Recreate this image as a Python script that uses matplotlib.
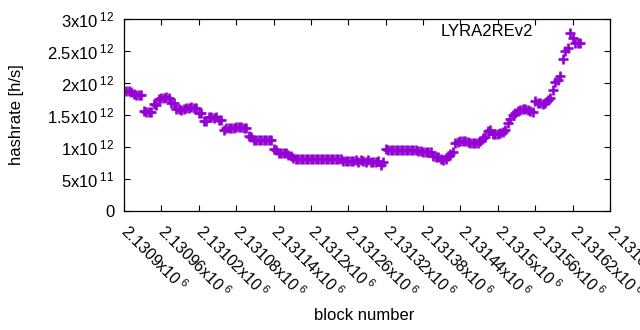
import matplotlib
matplotlib.use('Agg')
import matplotlib.pyplot as plt
import numpy as np

plt.rcParams['font.family'] = ['Liberation Sans', 'DejaVu Sans']
plt.rcParams['mathtext.fontset'] = 'custom'
plt.rcParams['mathtext.rm'] = 'Liberation Sans'
plt.rcParams['mathtext.default'] = 'regular'

PURPLE = '#9400d3'
FS = 12

# hashrate samples (x10^12 h/s), one every 4 blocks starting at FIRST_BLOCK
FIRST_BLOCK = 2130904
BLOCK_STEP = 4
hashrate_t = [
    1.88, 1.87, 1.86,
    1.83, 1.82, 1.82, 1.81,
    1.56, 1.55, 1.55, 1.54,
    1.67, 1.66,
    1.75, 1.76, 1.77, 1.78, 1.77,
    1.69, 1.68,
    1.59, 1.59, 1.58, 1.59,
    1.61, 1.61, 1.62, 1.61, 1.61,
    1.53, 1.53,
    1.40, 1.40,
    1.47, 1.47, 1.46, 1.47,
    1.42, 1.42,
    1.27, 1.29, 1.30, 1.30, 1.30, 1.31, 1.31, 1.31, 1.30, 1.30,
    1.17, 1.15,
    1.11, 1.11, 1.11, 1.11, 1.11, 1.11, 1.11, 1.11,
    0.97, 0.95,
    0.91, 0.91, 0.90, 0.90,
    0.87, 0.86,
    0.83, 0.82, 0.81, 0.81,
    0.81, 0.81, 0.81, 0.81, 0.81, 0.81, 0.81, 0.81,
    0.81, 0.81, 0.81, 0.81, 0.81, 0.81, 0.81, 0.81,
    0.78, 0.78, 0.78, 0.78, 0.78,
    0.79, 0.77, 0.80, 0.78, 0.77, 0.79,
    0.77, 0.76, 0.77, 0.78, 0.72, 0.77,
    0.97, 0.96, 0.96, 0.96, 0.96, 0.96, 0.96, 0.96, 0.96, 0.96, 0.96, 0.96, 0.96,
    0.93, 0.93, 0.92, 0.92, 0.92, 0.92,
    0.86, 0.85, 0.84,
    0.81, 0.80, 0.81,
    0.86, 0.89, 0.92,
    1.07, 1.08, 1.09, 1.09, 1.10, 1.08,
    1.07, 1.06, 1.06, 1.07, 1.09,
    1.14, 1.15,
    1.25, 1.27,
    1.20, 1.21, 1.21, 1.22, 1.23,
    1.27,
    1.38, 1.43,
    1.50, 1.53,
    1.56, 1.58, 1.59, 1.59, 1.58,
    1.56, 1.55,
    1.72,
    1.68, 1.68, 1.67, 1.68,
    1.74, 1.77,
    1.89,
    2.01, 2.04,
    2.11,
    2.38,
    2.50, 2.55,
    2.78,
    2.70,
    2.62, 2.62, 2.62,
]

x_ticks = [2130900, 2130960, 2131020, 2131080, 2131140, 2131200, 2131260,
           2131320, 2131380, 2131440, 2131500, 2131560, 2131620, 2131680]
x_ticklabels = ['2.1309', '2.13096', '2.13102', '2.13108', '2.13114', '2.1312',
                '2.13126', '2.13132', '2.13138', '2.13144', '2.1315', '2.13156',
                '2.13162', '2.13168']
y_ticks = [0, 0.5e12, 1e12, 1.5e12, 2e12, 2.5e12, 3e12]
y_ticklabels = ['0', r'5x10$\,^{11}$', r'1x10$\,^{12}$', r'1.5x10$\,^{12}$',
                r'2x10$\,^{12}$', r'2.5x10$\,^{12}$', r'3x10$\,^{12}$']

blocks = FIRST_BLOCK + BLOCK_STEP * np.arange(len(hashrate_t))
hashrate = np.array(hashrate_t) * 1e12

fig = plt.figure(figsize=(6.4, 3.3), dpi=100)
ax = fig.add_axes([124 / 640, 1 - 211 / 330, 486 / 640, 192 / 330])

ax.plot(blocks, hashrate, linestyle='none', marker='+', color=PURPLE,
        markersize=6.5, markeredgewidth=1.9)

ax.set_xlim(x_ticks[0], x_ticks[-1])
ax.set_ylim(0, 3e12)
ax.set_yticks(y_ticks)
ax.set_yticklabels(y_ticklabels, fontsize=FS)
ax.set_xticks(x_ticks)
ax.set_xticklabels([l + r'x10$\,^{6}$' for l in x_ticklabels], fontsize=11.5,
                   rotation=-45, ha='left', va='center', rotation_mode='anchor')

ax.tick_params(direction='in', length=4, width=0.8, top=True, right=True,
               colors='black')
ax.tick_params(axis='y', pad=7)
ax.tick_params(axis='x', pad=12)
for s in ax.spines.values():
    s.set_linewidth(0.9)

ax.text(0.842, 0.9375, 'LYRA2REv2', transform=ax.transAxes, ha='right',
        va='center', fontsize=FS)

fig.text(17 / 640, 1 - 115 / 330, 'hashrate [h/s]', rotation=90, ha='center',
         va='center', fontsize=FS)
fig.text(364 / 640, 1 - 315 / 330, 'block number', ha='center', va='center',
         fontsize=FS)

fig.savefig('out.png', dpi=100)
